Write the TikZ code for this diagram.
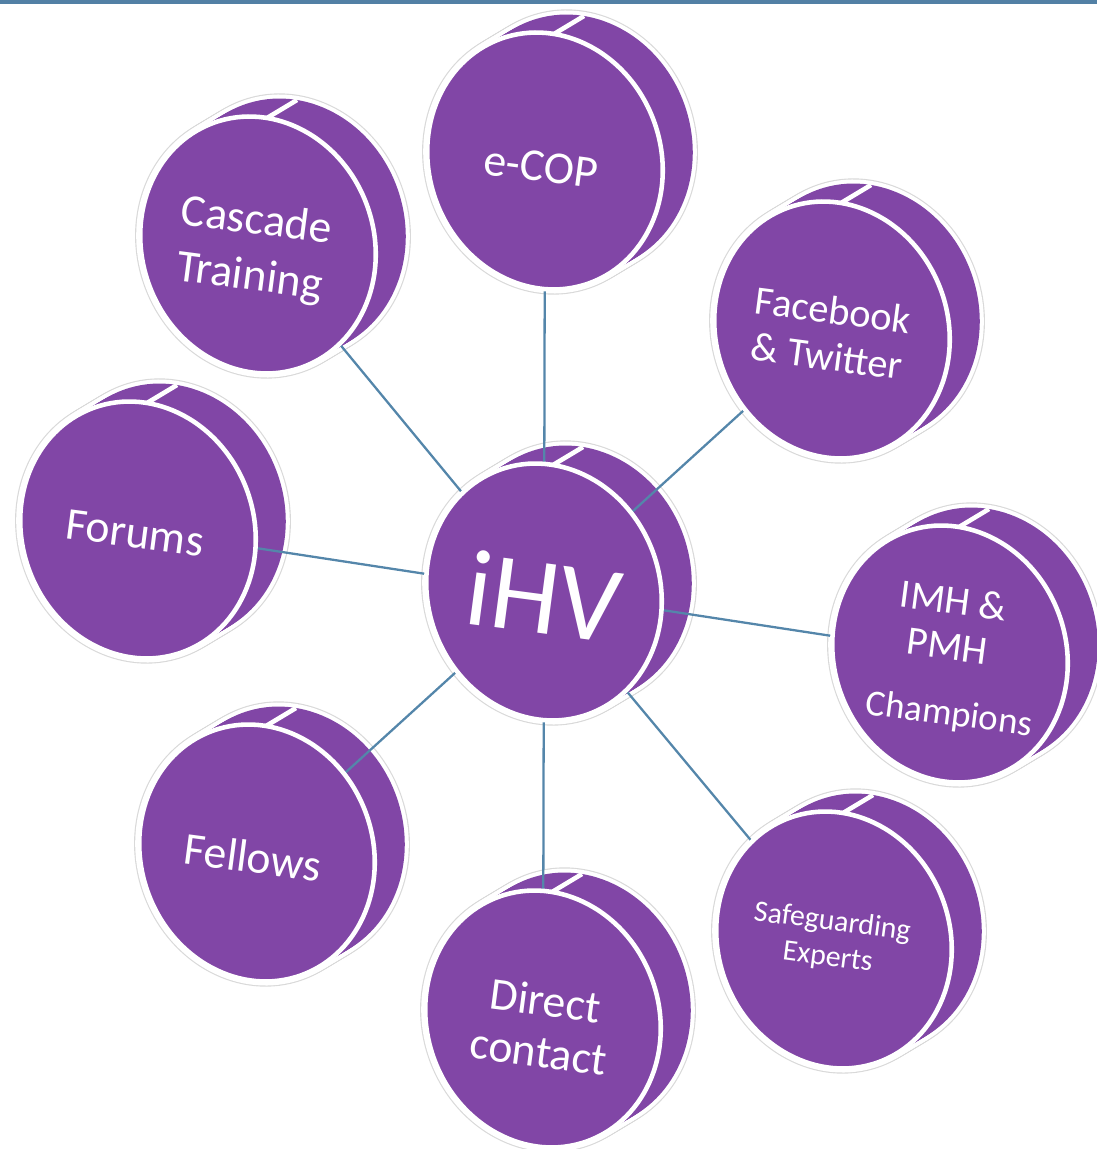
\documentclass[tikz,border=0pt]{standalone}
\usepackage{fontspec}
\setmainfont{Carlito}
\usetikzlibrary{calc}
\usepackage{xcolor}
\definecolor{disc_purple}{RGB}{129,70,166}
\definecolor{link_blue}{RGB}{84,134,170}
\definecolor{rule_blue}{RGB}{82,128,165}
\tikzset{
  tilt/.style    = {rotate=20},
  halo/.style    = {draw=gray!30, line width=5.9pt},
  rim/.style     = {draw=white, line width=4.6pt},
  body/.style    = {fill=disc_purple},
  face/.style    = {fill=disc_purple, draw=white, line width=2.6pt},
  seam/.style    = {white, line width=2.6pt},
  link/.style    = {link_blue, line width=1.3pt},
  lbl/.style     = {text=white, align=center, inner sep=0pt, rotate=-7.5},
  toprule/.style = {fill=rule_blue}
}
% outline of one disc face, in picture units around its centre
\newcommand{\faceoutline}{(0,0) ellipse [x radius=116, y radius=130]}

\begin{document}
\begin{tikzpicture}[x=0.02cm, y=-0.02cm]
    \useasboundingbox (0,0) rectangle (1097,1149);
    \def\nSteps{12}   % slices along the disc depth
    \def\dX{30}       % depth offset of the back face
    \def\dY{-18}

    % ----- Rule along the top -----
    \fill[toprule] (0,0) rectangle (1097,4);

    % ----- Disc bodies: back face and side -----
    \foreach \name/\cx/\cy in {hub/544/592, ecop/545/161, cascade/258/245,
        facebook/832/330, forums/138/530, imh/950/654, safeguard/834/940,
        fellows/257/853, direct/543/1019}{
      \coordinate (\name) at (\cx,\cy);
      \foreach \k in {0,...,\nSteps}{
        \path[halo, shift={(\cx+\dX*\k/\nSteps,\cy+\dY*\k/\nSteps)}, tilt] \faceoutline;
      }
      \foreach \k in {0,...,\nSteps}{
        \path[rim, shift={(\cx+\dX*\k/\nSteps,\cy+\dY*\k/\nSteps)}, tilt] \faceoutline;
      }
      \foreach \k in {0,...,\nSteps}{
        \path[body, shift={(\cx+\dX*\k/\nSteps,\cy+\dY*\k/\nSteps)}, tilt] \faceoutline;
      }
    }

    % ----- Links from the hub -----
    \foreach \name in {ecop,cascade,facebook,forums,imh,safeguard,fellows,direct}{
      \draw[link] (hub) -- (\name);
    }

    % ----- Front faces -----
    \foreach \name in {hub,ecop,cascade,facebook,forums,imh,safeguard,fellows,direct}{
      \path[face, shift={(\name)}, tilt] \faceoutline;
      \draw[seam, shift={(\name)}] (9,-127) -- ++(\dX,\dY);
    }

    % ----- Labels -----
    \node[lbl, font=\fontsize{62}{70}\selectfont] (hubtxt) at (544,596) {iHV};
    \node[lbl, font=\fontsize{26}{32}\selectfont] (ecoptxt) at (541,167) {e-COP};
    \node[lbl, font=\fontsize{26}{32}\selectfont] (cascadetxt) at (253,250) {Cascade\\Training};
    \node[lbl, font=\fontsize{23}{26.5}\selectfont] (facebooktxt) at (830,333) {Facebook\\\& Twitter};
    \node[lbl, font=\fontsize{26}{32}\selectfont] (forumstxt) at (135,533) {Forums};
    \node[lbl, font=\fontsize{23}{26}\selectfont] (imhtxt) at (946,658)
      {IMH \&\\PMH\\[11pt]{\fontsize{21}{26}\selectfont\hspace*{12pt}Champions}};
    \node[lbl, font=\fontsize{17}{20}\selectfont] (safeguardtxt) at (830,940) {Safeguarding\\Experts};
    \node[lbl, font=\fontsize{26}{32}\selectfont] (fellowstxt) at (253,857) {Fellows};
    \node[lbl, font=\fontsize{26}{29}\selectfont] (directtxt) at (542,1026) {Direct\\contact};
\end{tikzpicture}
\end{document}
